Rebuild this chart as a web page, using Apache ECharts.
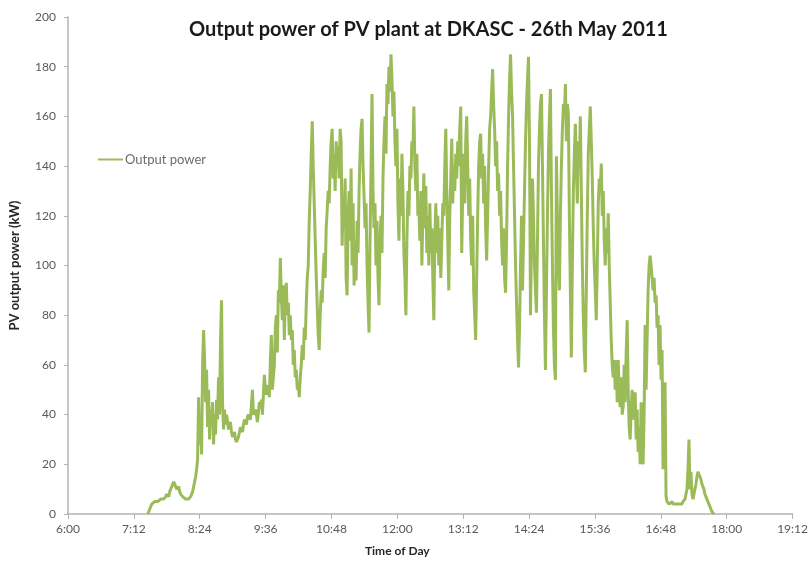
<!DOCTYPE html>
<html>
<head>
<meta charset="utf-8">
<title>Output power of PV plant at DKASC</title>
<script src="https://cdn.jsdelivr.net/npm/echarts@6/dist/echarts.min.js"></script>
<style>
  html, body { margin: 0; padding: 0; background: #fff; }
  #chart { width: 811px; height: 562px; }
</style>
</head>
<body>
<div id="chart"></div>
<script>
// logger samples, first one at 7:27, roughly every 65 s
const sampleStartMin = 447.2;
const sampleStepMin = 1.0894;

// output power (kW), one per sample
const powerKW = [
  0, 1, 2, 3, 4, 4, 4, 5, 5, 5,
  5, 5, 5, 6, 6, 6, 6, 6, 7, 8,
  8, 7, 9, 10, 11, 12, 13, 12, 11, 10,
  10, 11, 9, 8, 8, 7, 7, 7, 6, 6,
  6, 6, 6, 7, 8, 9, 11, 13, 15, 18,
  22, 47, 28, 40, 24, 60, 74, 62, 45, 58,
  35, 50, 30, 42, 36, 45, 28, 40, 32, 46,
  38, 55, 40, 70, 86, 45, 34, 42, 36, 40,
  37, 34, 36, 37, 33, 31, 32, 33, 30, 29,
  30, 31, 33, 35, 34, 33, 36, 38, 37, 36,
  39, 40, 39, 38, 44, 50, 40, 41, 42, 40,
  37, 41, 45, 43, 46, 40, 48, 56, 50, 48,
  52, 50, 47, 62, 72, 50, 55, 60, 75, 80,
  65, 90, 85, 103, 88, 78, 92, 70, 88, 93,
  80, 85, 72, 80, 70, 74, 60, 66, 55, 58,
  50, 52, 47, 55, 60, 68, 62, 75, 70, 84,
  95, 100, 118, 130, 145, 158, 140, 125, 110, 96,
  84, 72, 66, 80, 90, 85, 98, 105, 95, 115,
  122, 130, 125, 140, 150, 155, 135, 145, 130, 150,
  140, 148, 135, 155, 150, 108, 125, 118, 135, 95,
  88, 120, 130, 110, 139, 100, 125, 92, 110, 94,
  118, 105, 130, 145, 155, 159, 140, 128, 115, 125,
  100, 85, 73, 110, 140, 169, 130, 115, 125, 100,
  118, 95, 84, 110, 120, 105, 135, 150, 160, 145,
  173, 165, 180, 170, 185, 175, 160, 170, 150, 140,
  155, 125, 110, 135, 120, 145, 130, 105, 95, 80,
  110, 130, 120, 140, 135, 150, 145, 164, 140, 130,
  145, 120, 124, 110, 130, 100, 120, 137, 115, 132,
  105, 120, 100, 125, 105, 115, 95, 78, 110, 125,
  105, 120, 100, 115, 95, 110, 125, 120, 140, 155,
  130, 110, 90, 120, 135, 151, 125, 140, 130, 145,
  135, 150, 140, 155, 164, 105, 130, 145, 125, 150,
  160, 140, 120, 135, 110, 100, 120, 90, 80, 70,
  95, 120, 140, 150, 153, 135, 145, 125, 140, 115,
  102, 120, 140, 155, 160, 170, 179, 165, 155, 140,
  150, 130, 137, 120, 130, 110, 100, 115, 95, 89,
  110, 140, 160, 175, 185, 170, 160, 140, 120, 100,
  85, 70, 59, 75, 100, 120, 90, 110, 130, 150,
  165, 175, 184, 150, 80, 110, 135, 120, 100, 90,
  81, 110, 140, 155, 165, 169, 140, 110, 80, 58,
  90, 120, 145, 160, 171, 130, 100, 75, 60, 54,
  144, 120, 100, 90, 120, 140, 155, 165, 160, 173,
  150, 165, 161, 120, 90, 63, 100, 130, 145, 157,
  140, 125, 150, 140, 160, 130, 100, 80, 65, 57,
  90, 120, 145, 155, 164, 150, 135, 115, 100, 90,
  78, 100, 125, 135, 130, 141, 120, 130, 110, 100,
  115, 105, 121, 100, 85, 70, 60, 55, 62, 50,
  62, 45, 62, 50, 43, 55, 40, 43, 60, 45,
  65, 78, 50, 35, 30, 42, 50, 38, 45, 49,
  30, 42, 25, 35, 20, 45, 28, 20, 40, 76,
  50, 70, 90, 100, 104, 100, 95, 90, 95, 85,
  88, 75, 80, 60, 76, 54, 66, 18, 45, 53,
  7, 5, 5, 4, 4, 4, 5, 4, 4, 4,
  4, 4, 4, 4, 4, 4, 4, 5, 5, 6,
  8, 10, 18, 30, 10, 17, 8, 6, 6, 6,
  12, 15, 17, 16, 15, 14, 12, 11, 10, 8,
  7, 6, 5, 4, 3, 2, 1, 1, 0
];

// axis settings (minutes since midnight)
const timeMin = 360;   // 6:00
const timeMax = 1152;  // 19:12
const timeStep = 72;

const seriesData = powerKW.map((v, i) => [sampleStartMin + i * sampleStepMin, v]);

function formatTime(value) {
  let hour = Math.floor(value / 60);
  let minute = Math.round(value % 60);
  return hour + ":" + (minute < 10 ? "0" + minute : minute);
}

const axisGrey = "#b3b3b3";
const labelGrey = "#595959";
const baseFont = "Lato, 'Open Sans', sans-serif";

let myChart = echarts.init(document.getElementById("chart"), null, { renderer: "canvas" });

let option = {
  animation: false,
  backgroundColor: "#ffffff",
  textStyle: { fontFamily: baseFont },
  title: {
    text: "Output power of PV plant at DKASC - 26th May 2011",
    left: 184,
    top: 15,
    textStyle: {
      fontFamily: baseFont,
      fontSize: 20,
      fontWeight: "bold",
      color: "#1a1a1a",
    },
  },
  legend: {
    left: 93,
    top: 148,
    icon: "rect",
    itemWidth: 25,
    itemHeight: 2,
    itemGap: 4,
    data: ["Output power"],
    textStyle: { color: "#6b6b6b", fontSize: 13, fontFamily: baseFont, padding: [0, 0, 0, -3] },
  },
  grid: {
    left: 68,
    right: 15,
    top: 17,
    bottom: 47,
    containLabel: false,
  },
  xAxis: {
    type: "value",
    min: timeMin,
    max: timeMax,
    interval: timeStep,
    name: "Time of Day",
    nameLocation: "middle",
    nameGap: 31,
    nameTextStyle: {
      fontSize: 12,
      fontWeight: "bold",
      color: "#262626",
      padding: [0, 66, 0, 0],
    },
    axisLine: { show: true, onZero: false, lineStyle: { color: axisGrey, width: 1.5 } },
    axisTick: { show: true, length: 5, lineStyle: { color: axisGrey } },
    axisLabel: {
      color: labelGrey,
      fontSize: 12,
      margin: 9,
      formatter: (value) => formatTime(value),
    },
    splitLine: { show: false },
  },
  yAxis: {
    type: "value",
    min: 0,
    max: 200,
    interval: 20,
    name: "PV output power (kW)",
    nameLocation: "middle",
    nameGap: 47,
    nameTextStyle: {
      fontSize: 13,
      fontWeight: "bold",
      color: "#262626",
    },
    axisLine: { show: true, lineStyle: { color: axisGrey, width: 1.5 } },
    axisTick: { show: true, length: 4, lineStyle: { color: axisGrey } },
    axisLabel: { color: labelGrey, fontSize: 12, margin: 12 },
    splitLine: { show: false },
  },
  series: [
    {
      name: "Output power",
      type: "line",
      data: seriesData,
      symbol: "none",
      smooth: false,
      color: "#9bbb59",
      lineStyle: { color: "#9bbb59", width: 3 },
    },
  ],
};

option && myChart.setOption(option);
</script>
</body>
</html>
